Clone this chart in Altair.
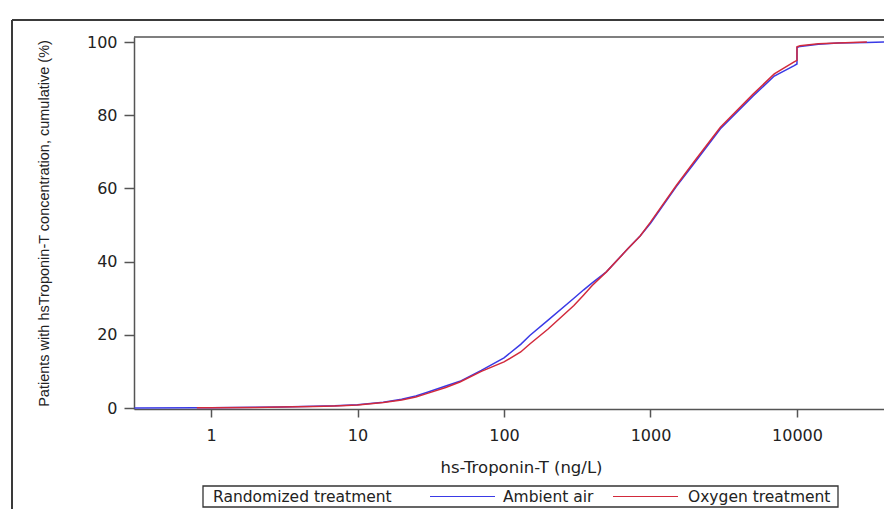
import altair as alt
import pandas as pd

# hs-Troponin-T concentration (ng/L) and cumulative % of patients
tnt = [0.3, 0.8, 1, 2, 3, 5, 7, 10, 15, 20, 25, 30, 40, 50, 70, 100, 130, 150,
       200, 300, 350, 400, 500, 700, 850, 1000, 1500, 2000, 3000, 5000, 7000, 9500,
       9999, 10000, 10500, 14000, 19000, 30000, 40000]
ambient = [0.0, 0.05, 0.1, 0.2, 0.3, 0.45, 0.6, 0.9, 1.6, 2.4, 3.3, 4.3, 6.0, 7.3,
           10.3, 13.7, 17.4, 19.8, 24.0, 30.0, 32.3, 34.2, 37.2, 43.5, 47.0, 50.5,
           60.5, 67.0, 76.3, 85.2, 90.7, 93.5, 94.0, 98.5, 98.8, 99.4, 99.7, 99.9, 100.0]
oxygen = [None, 0.05, 0.08, 0.15, 0.25, 0.4, 0.55, 0.8, 1.5, 2.2, 3.0, 4.0, 5.6, 7.1,
          10.0, 12.6, 15.3, 17.5, 21.6, 28.0, 30.9, 33.5, 37.2, 43.5, 47.0, 50.8,
          60.8, 67.5, 76.7, 85.7, 91.3, 94.5, 95.0, 98.7, 99.0, 99.5, 99.7, 100.0, None]

groups = ["Ambient air", "Oxygen treatment"]
colors = ["#3a3ae6", "#d22a3c"]
x_ticks = [1, 10, 100, 1000, 10000]
y_ticks = [0, 20, 40, 60, 80, 100]

rows = []
for x, a, o in zip(tnt, ambient, oxygen):
    if a is not None:
        rows.append({"tnt": x, "pct": a, "group": groups[0]})
    if o is not None:
        rows.append({"tnt": x, "pct": o, "group": groups[1]})
df = pd.DataFrame(rows)

W, H = 750, 372
AX = "#555555"
TXT = "#222222"
FONT = "DejaVu Sans"

xscale = alt.Scale(type="log", domain=[0.298, 39260], nice=False)
yscale = alt.Scale(domain=[-0.27, 101.37], nice=False, zero=False)

lines = alt.Chart(df).mark_line(strokeWidth=1.5, clip=True).encode(
    x=alt.X("tnt:Q", scale=xscale, axis=alt.Axis(
        values=x_ticks, format="d", grid=False, tickSize=8, tickWidth=1.5,
        tickColor=AX, domainColor=AX, domainWidth=1.5, labelPadding=10,
        labelFont=FONT, labelFontSize=16, labelColor=TXT, labelFlush=False,
        labelOverlap=False,
        title="hs-Troponin-T (ng/L)", titleFont=FONT, titleFontSize=16.5,
        titleFontWeight="normal", titleColor=TXT, titleX=387, titleY=63,
        titleBaseline="alphabetic", titleAlign="center")),
    y=alt.Y("pct:Q", scale=yscale, axis=alt.Axis(
        values=y_ticks, grid=False, tickSize=10, tickWidth=1.5, tickColor=AX,
        domainColor=AX, domainWidth=1.5, labelPadding=7, labelFont=FONT,
        labelFontSize=16, labelColor=TXT, labelFlush=False, labelOverlap=False,
        title="Patients with hsTroponin-T concentration, cumulative (%)",
        titleFont="Liberation Sans", titleFontSize=14.5, titleFontWeight="normal",
        titleColor=TXT, titleX=-90, titleBaseline="middle", titleAngle=-90)),
    color=alt.Color("group:N", scale=alt.Scale(domain=groups, range=colors), legend=None),
)

one = pd.DataFrame({"k": [0]})

top_border = alt.Chart(one).mark_rule(color=AX, strokeWidth=1.5).encode(
    x=alt.value(0), x2=alt.value(W), y=alt.value(0))

frame_top = alt.Chart(one).mark_rule(color="#3a3a3a", strokeWidth=2).encode(
    x=alt.value(-122), x2=alt.value(W), y=alt.value(-17))
frame_left = alt.Chart(one).mark_rule(color="#3a3a3a", strokeWidth=2).encode(
    x=alt.value(-122), y=alt.value(-17), y2=alt.value(H + 100))

# legend (drawn as a boxed row under the axis title)
leg_box = alt.Chart(one).mark_rect(fillOpacity=0, stroke="#333333", strokeWidth=1.3).encode(
    x=alt.value(69), x2=alt.value(704), y=alt.value(449), y2=alt.value(470))
leg_title = alt.Chart(one).mark_text(align="left", baseline="middle", font=FONT,
                                     fontSize=15.5, color=TXT).encode(
    x=alt.value(79), y=alt.value(460), text=alt.value("Randomized treatment"))
leg_line_a = alt.Chart(one).mark_rule(color=colors[0], strokeWidth=1.2).encode(
    x=alt.value(296), x2=alt.value(361), y=alt.value(459.5))
leg_text_a = alt.Chart(one).mark_text(align="left", baseline="middle", font=FONT,
                                      fontSize=15.5, color=TXT).encode(
    x=alt.value(369), y=alt.value(460), text=alt.value(groups[0]))
leg_line_o = alt.Chart(one).mark_rule(color=colors[1], strokeWidth=1.2).encode(
    x=alt.value(479), x2=alt.value(544), y=alt.value(459.5))
leg_text_o = alt.Chart(one).mark_text(align="left", baseline="middle", font=FONT,
                                      fontSize=15.5, color=TXT).encode(
    x=alt.value(554), y=alt.value(460), text=alt.value(groups[1]))

chart = alt.layer(
    frame_top, frame_left, top_border, lines,
    leg_box, leg_title, leg_line_a, leg_text_a, leg_line_o, leg_text_o,
).properties(
    width=W, height=H,
    autosize=alt.AutoSizeParams(type="none"),
    padding={"left": 126, "top": 29, "right": 0, "bottom": 100},
    background="white",
).configure_view(stroke=None)

chart.save("out.html", embed_options={"renderer": "svg", "actions": False})
